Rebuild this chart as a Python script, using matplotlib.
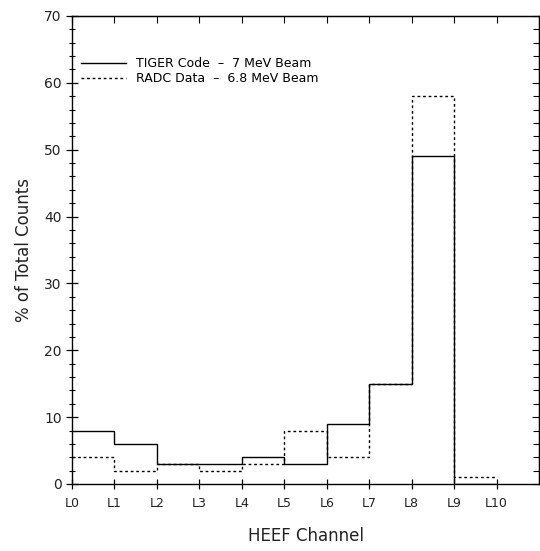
import numpy as np
import matplotlib
matplotlib.use("Agg")
import matplotlib.pyplot as plt
from matplotlib.ticker import MultipleLocator

# channel edges L0..L10
channels = ['L0', 'L1', 'L2', 'L3', 'L4', 'L5', 'L6', 'L7', 'L8', 'L9', 'L10']
tiger = [8, 6, 3, 3, 4, 3, 9, 15, 49, 0]   # TIGER Code - 7 MeV Beam
radc = [4, 2, 3, 2, 3, 8, 4, 15, 58, 1]    # RADC Data - 6.8 MeV Beam

plt.rcParams['font.family'] = ['DejaVu Sans']

fig = plt.figure(figsize=(5.4, 5.51), dpi=100)
ax = fig.add_axes([0.1333, 0.1216, 0.865, 0.8494])

edges = np.arange(len(channels))
ax.stairs(tiger, edges, baseline=None, color='black', lw=1.0, ls='-',
          label='TIGER Code  \u2013  7 MeV Beam')
ax.stairs(radc, edges, baseline=None, color='black', lw=1.0, ls=(0, (2, 2)),
          label='RADC Data  \u2013  6.8 MeV Beam')

ax.set_xlim(0, 11)
ax.set_ylim(0, 70)
ax.set_xticks(edges)
ax.set_xticklabels(channels, fontsize=9, color='#222222')
ax.yaxis.set_major_locator(MultipleLocator(10))
ax.yaxis.set_minor_locator(MultipleLocator(2))
ax.tick_params(axis='y', which='major', direction='inout', length=8, width=0.9,
               labelsize=10, labelcolor='#222222')
ax.tick_params(axis='y', which='minor', direction='inout', length=4, width=0.8)
ax.tick_params(axis='x', direction='inout', length=7, width=0.9, pad=6)

# right and top: inward ticks only
right = ax.secondary_yaxis('right')
right.yaxis.set_major_locator(MultipleLocator(10))
right.yaxis.set_minor_locator(MultipleLocator(2))
right.tick_params(which='major', direction='in', length=5, width=0.8, labelright=False)
right.tick_params(which='minor', direction='in', length=4, width=0.8)
top = ax.secondary_xaxis('top')
top.set_xticks(edges)
top.tick_params(direction='in', length=5, width=0.8, labeltop=False)

for s in ax.spines.values():
    s.set_linewidth(1.0)

ax.set_xlabel('HEEF Channel', fontsize=12, labelpad=12, color='#222222')
ax.set_ylabel('% of Total Counts', fontsize=12, labelpad=8, color='#222222')

leg = ax.legend(loc='upper left', frameon=False, fontsize=9,
                handlelength=3.6, borderaxespad=0.3, labelspacing=0.15,
                bbox_to_anchor=(0.0, 0.93))

fig.savefig('out.png', dpi=100)
